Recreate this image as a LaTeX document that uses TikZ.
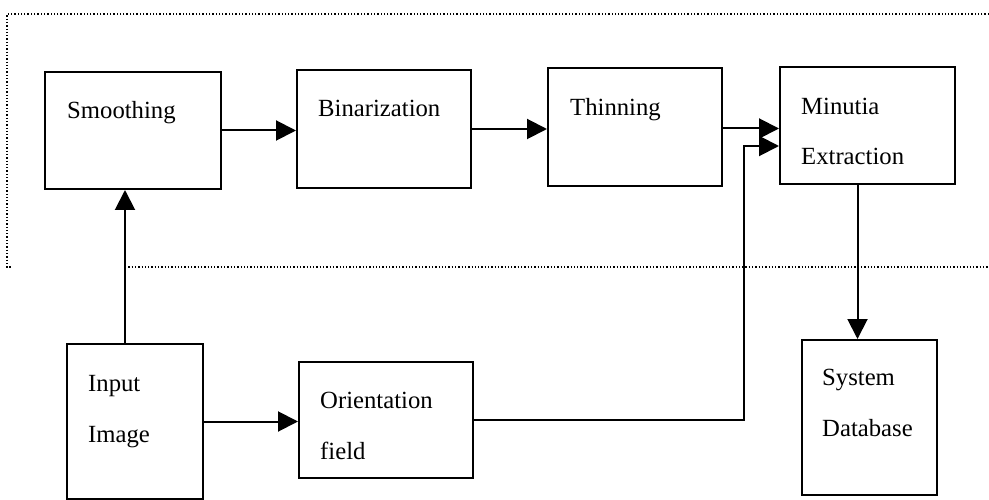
\documentclass[tikz,border=0pt]{standalone}
\usepackage{fontspec}
\setmainfont{Liberation Serif}
\usetikzlibrary{arrows.meta}
\usetikzlibrary{positioning}

\tikzset{
	blk/.style={draw, line width=2pt, minimum width=#1, inner sep=0pt},
	txt/.style={anchor=base west, inner sep=0pt, align=left, font=\fontsize{24.7}{51}\selectfont},
	arr/.style={line width=2pt, -{Triangle[length=20pt,width=20pt]}},
	frame/.style={dotted, line width=1.3pt}
}

\begin{document}
\begin{tikzpicture}[x=1pt,y=-1pt]
		\useasboundingbox (0,0) rectangle (989,500);
		% dotted frame round the upper stages
		\draw[frame] (989,14) -| (7,267) -- (12,267);
		\draw[frame] (125,267) -- (989,267);
		% boxes
		\node[blk=176pt, minimum height=117pt] (smooth) at (133,130.5) {};
		\node[blk=174pt, minimum height=118pt] (binar) at (384,129) {};
		\node[blk=174pt, minimum height=118pt] (thin) at (635,127) {};
		\node[blk=175pt, minimum height=117pt] (minut) at (867.5,125.5) {};
		\node[blk=136pt, minimum height=155pt] (input) at (135,421.5) {};
		\node[blk=174pt, minimum height=116pt] (orient) at (386,420) {};
		\node[blk=135pt, minimum height=155pt] (sysdb) at (869.5,417.5) {};
		% texts (base = last line)
		\node[txt] (smoothtxt) at (67,119) {Smoothing};
		\node[txt] (binartxt) at (318,117) {Binarization};
		\node[txt] (thintxt) at (570,116) {Thinning};
		\node[txt] (minuttxt) at (801,165) {Minutia\\Extraction};
		\node[txt] (inputtxt) at (88,442) {Input\\Image};
		\node[txt] (orienttxt) at (320,459) {Orientation\\field};
		\node[txt] (sysdbtxt) at (822,436) {System\\Database};
		% connectors
		\draw[arr] ([xshift=-10pt]input.north) -- ([xshift=-10pt]input.north |- smooth.south);
		\draw[arr] (smooth.east) -- (smooth.east -| binar.west);
		\draw[arr] (binar.east) -- (binar.east -| thin.west);
		\draw[arr] ([yshift=-1.5pt]thin.east) -- ([yshift=-1.5pt]thin.east -| minut.west);
		\draw[arr] (input.east) -- (input.east -| orient.west);
		\draw[arr] (orient.east) -- ++(270,0) |- ([yshift=-20.5pt]minut.west);
		\draw[arr] ([xshift=-10pt]minut.south) -- ([xshift=-10pt]minut.south |- sysdb.north);
	\end{tikzpicture}
\end{document}
